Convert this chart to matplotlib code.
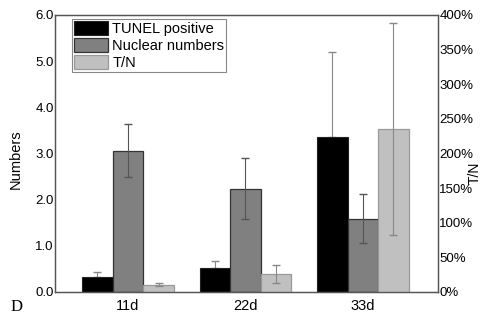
import numpy as np
import matplotlib
matplotlib.use('Agg')
import matplotlib.pyplot as plt
from matplotlib.ticker import FuncFormatter

plt.rcParams['font.family'] = ['Liberation Sans', 'DejaVu Sans']

days = ['11d', '22d', '33d']
tunel = [0.32, 0.52, 3.36]
tunel_err = [0.11, 0.14, 1.84]
nuclear = [3.06, 2.24, 1.59]
nuclear_err = [0.58, 0.67, 0.54]
tn = [10.5, 26.0, 235.0]   # percent
tn_err = [2.5, 12.6, 153.0]

x = np.arange(len(days))
w = 0.26

fig = plt.figure(figsize=(4.8, 3.17), dpi=100)
ax = fig.add_axes([0.115, 0.079, 0.7975, 0.874])
ax2 = ax.twinx()

b1 = ax.bar(x - w, tunel, w, color='black', edgecolor='#222222', lw=0.8, zorder=2)
ax.errorbar(x - w, tunel, yerr=[np.zeros(3), tunel_err], fmt='none',
            ecolor='#888888', elinewidth=0.8, capsize=3, zorder=1)
b2 = ax.bar(x, nuclear, w, color='#808080', edgecolor='#333333', lw=0.9, zorder=2)
ax.errorbar(x, nuclear, yerr=nuclear_err, fmt='none',
            ecolor='#555555', elinewidth=0.8, capsize=3, zorder=3)
b3 = ax2.bar(x + w, tn, w, color='#c0c0c0', edgecolor='#999999', lw=0.9, zorder=2)
ax2.errorbar(x + w, tn, yerr=tn_err, fmt='none',
             ecolor='#888888', elinewidth=0.8, capsize=3, zorder=3)

ax.set_xlim(-0.62, 2.64)
ax.set_ylim(0, 6.0)
ax2.set_ylim(0, 400)
ax.set_yticks(np.arange(0, 6.1, 1.0))
ax.set_yticklabels(['%.1f' % v for v in np.arange(0, 6.1, 1.0)])
ax2.set_yticks(np.arange(0, 401, 50))
ax2.yaxis.set_major_formatter(FuncFormatter(lambda v, p: '%d%%' % v))
ax.set_xticks(x)
ax.set_xticklabels(days, fontsize=10.5)

ax.tick_params(axis='y', length=0, pad=1, labelsize=9.5)
ax2.tick_params(axis='y', length=0, pad=1, labelsize=9.5)
ax.tick_params(axis='x', length=0, pad=5)

for a in (ax, ax2):
    for s in a.spines.values():
        s.set_color('#555555')
        s.set_linewidth(0.9)

ax.set_ylabel('Numbers', fontsize=10.5)
ax.yaxis.set_label_coords(-0.085, 0.48)
ax2.set_ylabel('T/N', fontsize=10, rotation=90)
ax2.yaxis.set_label_coords(1.077, 0.43)

leg = ax2.legend([b1, b2, b3], ['TUNEL positive', 'Nuclear numbers', 'T/N'],
                 loc='upper left', bbox_to_anchor=(0.044, 0.986), borderaxespad=0,
                 fontsize=10.5, handlelength=2.3, handleheight=1.15,
                 labelspacing=0.12, handletextpad=0.3, borderpad=0.15,
                 fancybox=False, framealpha=1)
leg.get_frame().set_edgecolor('#888888')
leg.get_frame().set_linewidth(0.8)

fig.text(0.022, 0.02, 'D', family='Liberation Serif', fontsize=12)

fig.savefig('out.png', dpi=100)
